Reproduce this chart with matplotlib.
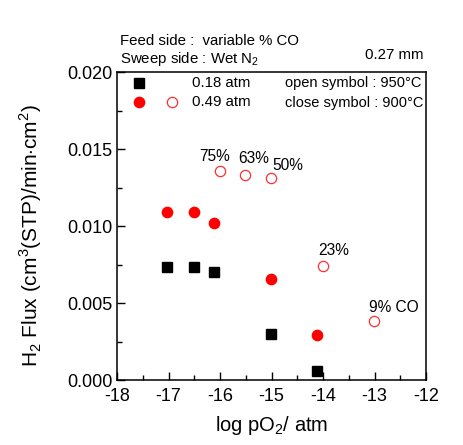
import matplotlib
matplotlib.use("Agg")
import matplotlib.pyplot as plt
from matplotlib.ticker import MultipleLocator

plt.rcParams['font.family'] = ['Liberation Sans', 'DejaVu Sans']
plt.rcParams['axes.unicode_minus'] = False
plt.rcParams['mathtext.fontset'] = 'custom'
plt.rcParams['mathtext.rm'] = 'Liberation Sans'

# data
x_black_900 = [-17.02, -16.5, -16.11, -15.01, -14.11]
y_black_900 = [0.00736, 0.00736, 0.00701, 0.00301, 0.00058]
x_red_900 = [-17.02, -16.5, -16.11, -15.01, -14.12]
y_red_900 = [0.01093, 0.01093, 0.0102, 0.00658, 0.0029]
x_red_950 = [-16.0, -15.51, -15.01, -14.0, -13.01]
y_red_950 = [0.01359, 0.01331, 0.01314, 0.00738, 0.00383]
co_labels = ['75%', '63%', '50%', '23%', '9% CO']
label_offsets = [(-4, 7), (6, 9), (12, 5.5), (8, 8), (14, 6.5)]

fig = plt.figure(figsize=(4.64, 4.45), dpi=100)
ax = fig.add_axes([0.2522, 0.146, 0.666, 0.692])

ax.plot(x_black_900, y_black_900, 's', color='black', ms=6.8, mec='black', ls='none')
ax.plot(x_red_900, y_red_900, 'o', color='red', ms=7.4, mec='red', ls='none')
ax.plot(x_red_950, y_red_950, 'o', mfc='white', mec='#ff3030', mew=0.9, ms=7.4, ls='none')

for xv, yv, lab, off in zip(x_red_950, y_red_950, co_labels, label_offsets):
    ax.annotate(lab, (xv, yv), xytext=off, textcoords='offset points',
                ha='center', va='baseline', fontsize=11.2)

ax.set_xlim(-18, -12)
ax.set_ylim(0, 0.020)
ax.xaxis.set_major_locator(MultipleLocator(1))
ax.xaxis.set_minor_locator(MultipleLocator(0.5))
ax.yaxis.set_major_locator(MultipleLocator(0.005))
ax.yaxis.set_minor_locator(MultipleLocator(0.0025))
ax.yaxis.set_major_formatter(matplotlib.ticker.FormatStrFormatter('%.3f'))
ax.xaxis.set_major_formatter(matplotlib.ticker.FormatStrFormatter('%d'))
ax.tick_params(which='both', direction='in', top=False, right=False, labelsize=13)
ax.tick_params(which='major', length=6, width=1)
ax.tick_params(which='minor', length=3.5, width=1)
ax.tick_params(axis='x', pad=6)
for s in ax.spines.values():
    s.set_linewidth(1.1)

ax.set_xlabel('log pO$_2$/ atm', fontsize=14.5, labelpad=6)
ax.set_ylabel('H$_2$ Flux (cm$^3$(STP)/min$\\cdot$cm$^2$)', fontsize=15, labelpad=4)
ax.yaxis.set_label_coords(-0.235, 0.47)

# legend-like annotations inside axes
ax.plot([0.072], [0.963], 's', color='black', ms=6.8, transform=ax.transAxes, clip_on=False)
ax.plot([0.072], [0.902], 'o', color='red', ms=7.4, transform=ax.transAxes, clip_on=False)
ax.plot([0.178], [0.902], 'o', mfc='white', mec='#ff3030', mew=0.9, ms=7.4, transform=ax.transAxes, clip_on=False)
ax.text(0.243, 0.963, '0.18 atm', transform=ax.transAxes, fontsize=10.8, va='center', ha='left')
ax.text(0.243, 0.902, '0.49 atm', transform=ax.transAxes, fontsize=10.8, va='center', ha='left')
ax.text(0.545, 0.963, 'open symbol : 950\u00b0C', transform=ax.transAxes, fontsize=10.5, va='center', ha='left')
ax.text(0.545, 0.898, 'close symbol : 900\u00b0C', transform=ax.transAxes, fontsize=10.5, va='center', ha='left')

fig.text(120/464, 1-41/445, 'Feed side :  variable % CO', fontsize=10.8, va='center', ha='left')
fig.text(120/464, 1-59/445, 'Sweep side : Wet N$_2$', fontsize=10.8, va='center', ha='left')
fig.text(424/464, 1-55/445, '0.27 mm', fontsize=10.8, va='center', ha='right')

fig.savefig('out.png', dpi=100)
